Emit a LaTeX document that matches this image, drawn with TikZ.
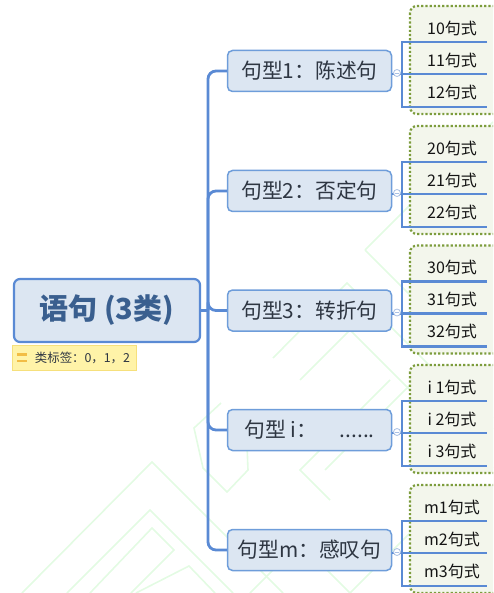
\documentclass[tikz,border=0pt]{standalone}
\usepackage{fontspec}
\setmainfont{Noto Sans CJK SC}
\definecolor{connblue}{HTML}{5A8AD4}
\definecolor{lfill}{HTML}{DCE6F2}
\definecolor{lborder}{HTML}{6E9DDA}
\definecolor{roottext}{HTML}{3A5F8F}
\definecolor{ltext}{HTML}{2E3642}
\definecolor{dotgreen}{HTML}{7C9C3C}
\definecolor{dotfill}{HTML}{F3F6EC}
\definecolor{tagfill}{HTML}{FFF3A8}
\definecolor{tagborder}{HTML}{F6E07C}
\definecolor{tagicon}{HTML}{F2BD45}
\definecolor{wmark}{HTML}{E3FBE3}
\definecolor{knob}{HTML}{A9C0E4}
\tikzset{
  conn/.style={draw=connblue, line width=2.8pt},
  rootbox/.style={draw=connblue, fill=lfill, line width=2.2pt, rounded corners=6pt,
    minimum width=186pt, minimum height=63pt, inner sep=0pt,
    font=\fontsize{29}{29}\selectfont\bfseries, text=roottext},
  lvtwo/.style={draw=lborder, fill=lfill, line width=1.5pt, rounded corners=5pt,
    minimum width=164pt, minimum height=41pt, inner sep=0pt,
    font=\fontsize{20.8}{20.8}\selectfont, text=ltext},
  lvthree/.style={inner sep=0pt, font=\fontsize{16}{16}\selectfont, text=black!92},
  dotbox/.style={draw=dotgreen, fill=dotfill, line width=2.2pt, dotted, rounded corners=7pt},
  tagbox/.style={draw=tagborder, fill=tagfill, line width=0.8pt, minimum width=124pt,
    minimum height=25pt, inner sep=0pt, font=\fontsize{12.4}{12.4}\selectfont, text=ltext},
  knobc/.style={circle, draw=knob, fill=white, line width=0.8pt, minimum size=7pt, inner sep=0pt},
  wm/.style={draw=wmark, line width=1.6pt}
}
\newcommand\mygroup[6]{%
  \node[lvtwo] (t#1) at (309.5,#2) {#3};
  \draw[conn, rounded corners=8pt] (hub) |- (t#1.west);
  \begin{scope}
    \clip (0,0) rectangle (493,593);
    \draw[dotbox] (410,{#2-65}) rectangle (510,{#2+43});
  \end{scope}
  \node[lvthree] (a#1) at (452,{#2-43}) {#4};
  \node[lvthree] (b#1) at (452,{#2-11}) {#5};
  \node[lvthree] (c#1) at (452,{#2+21}) {#6};
  \coordinate (j#1) at (402,{#2+3});
  \coordinate (u#1) at (402,{#2-29});
  \coordinate (d#1) at (402,{#2+36});
  \coordinate (ue#1) at (487,{#2-29});
  \coordinate (me#1) at (487,{#2+3});
  \coordinate (de#1) at (487,{#2+36});
  \draw[conn] (t#1.east |- j#1) -- (j#1) -- (me#1);
  \draw[conn] (ue#1) -- (u#1) -- (d#1) -- (de#1);
  \node[knobc] (k#1) at (397,{#2+2}) {};
  \draw[draw=knob, line width=0.7pt] ([xshift=-2pt]k#1.center) -- ([xshift=2pt]k#1.center);
}
\begin{document}
\begin{tikzpicture}[x=1pt,y=-1pt]
\useasboundingbox (0,0) rectangle (493,593);
% watermark
\begin{scope}
  \clip (0,0) rectangle (493,593);
  \draw[wm] (22,593) -- (152,462) -- (283,593);
  \draw[wm] (67,593) -- (150,510) -- (233,593);
  \draw[wm] (90,593) -- (152,528) -- (174,550) -- (131,593);
  \draw[wm] (136,593) -- (189,566) -- (215,593);
  \draw[wm] (221,403) -- (194,428) -- (203,468) -- (227,492) -- (248,470) -- (246,420);
  \draw[wm] (273,358) -- (347,283) -- (493,429);
  \draw[wm] (300,380) -- (350,330) -- (493,473);
  \draw[wm] (365,250) -- (493,122);
  \draw[wm] (365,250) -- (440,325);
  \draw[wm] (325,470) -- (410,385) -- (493,468);
  \draw[wm] (330,500) -- (300,470) -- (390,380);
  \draw[wm] (440,470) -- (493,417);
  \draw[wm] (350,593) -- (420,523) -- (493,593);
  \draw[wm] (250,593) -- (300,543) -- (350,593);
  \draw[wm] (440,40) -- (493,93);
\end{scope}
% root
\node[rootbox] (root) at (107,310.5) {语句 (3类)};
\node[tagbox] (tag) at (74.5,358) {\hspace{16pt}类标签：0，1，2};
\draw[tagicon, line width=2.2pt] (17,354.5) -- (27,354.5);
\draw[tagicon, line width=2.2pt] (17,361) -- (27,361);
\coordinate (hub) at (208,310.5);
\draw[conn] (root.east) -- (hub);
\mygroup{1}{71}{句型1：陈述句}{10句式}{11句式}{12句式}
\mygroup{2}{191}{句型2：否定句}{20句式}{21句式}{22句式}
\mygroup{3}{310.5}{句型3：转折句}{30句式}{31句式}{32句式}
\mygroup{4}{430}{句型 i：\hspace{1.1em}......\hspace{0.9em}}{i 1句式}{i 2句式}{i 3句式}
\mygroup{5}{550}{句型m：感叹句}{m1句式}{m2句式}{m3句式}
\end{tikzpicture}
\end{document}
